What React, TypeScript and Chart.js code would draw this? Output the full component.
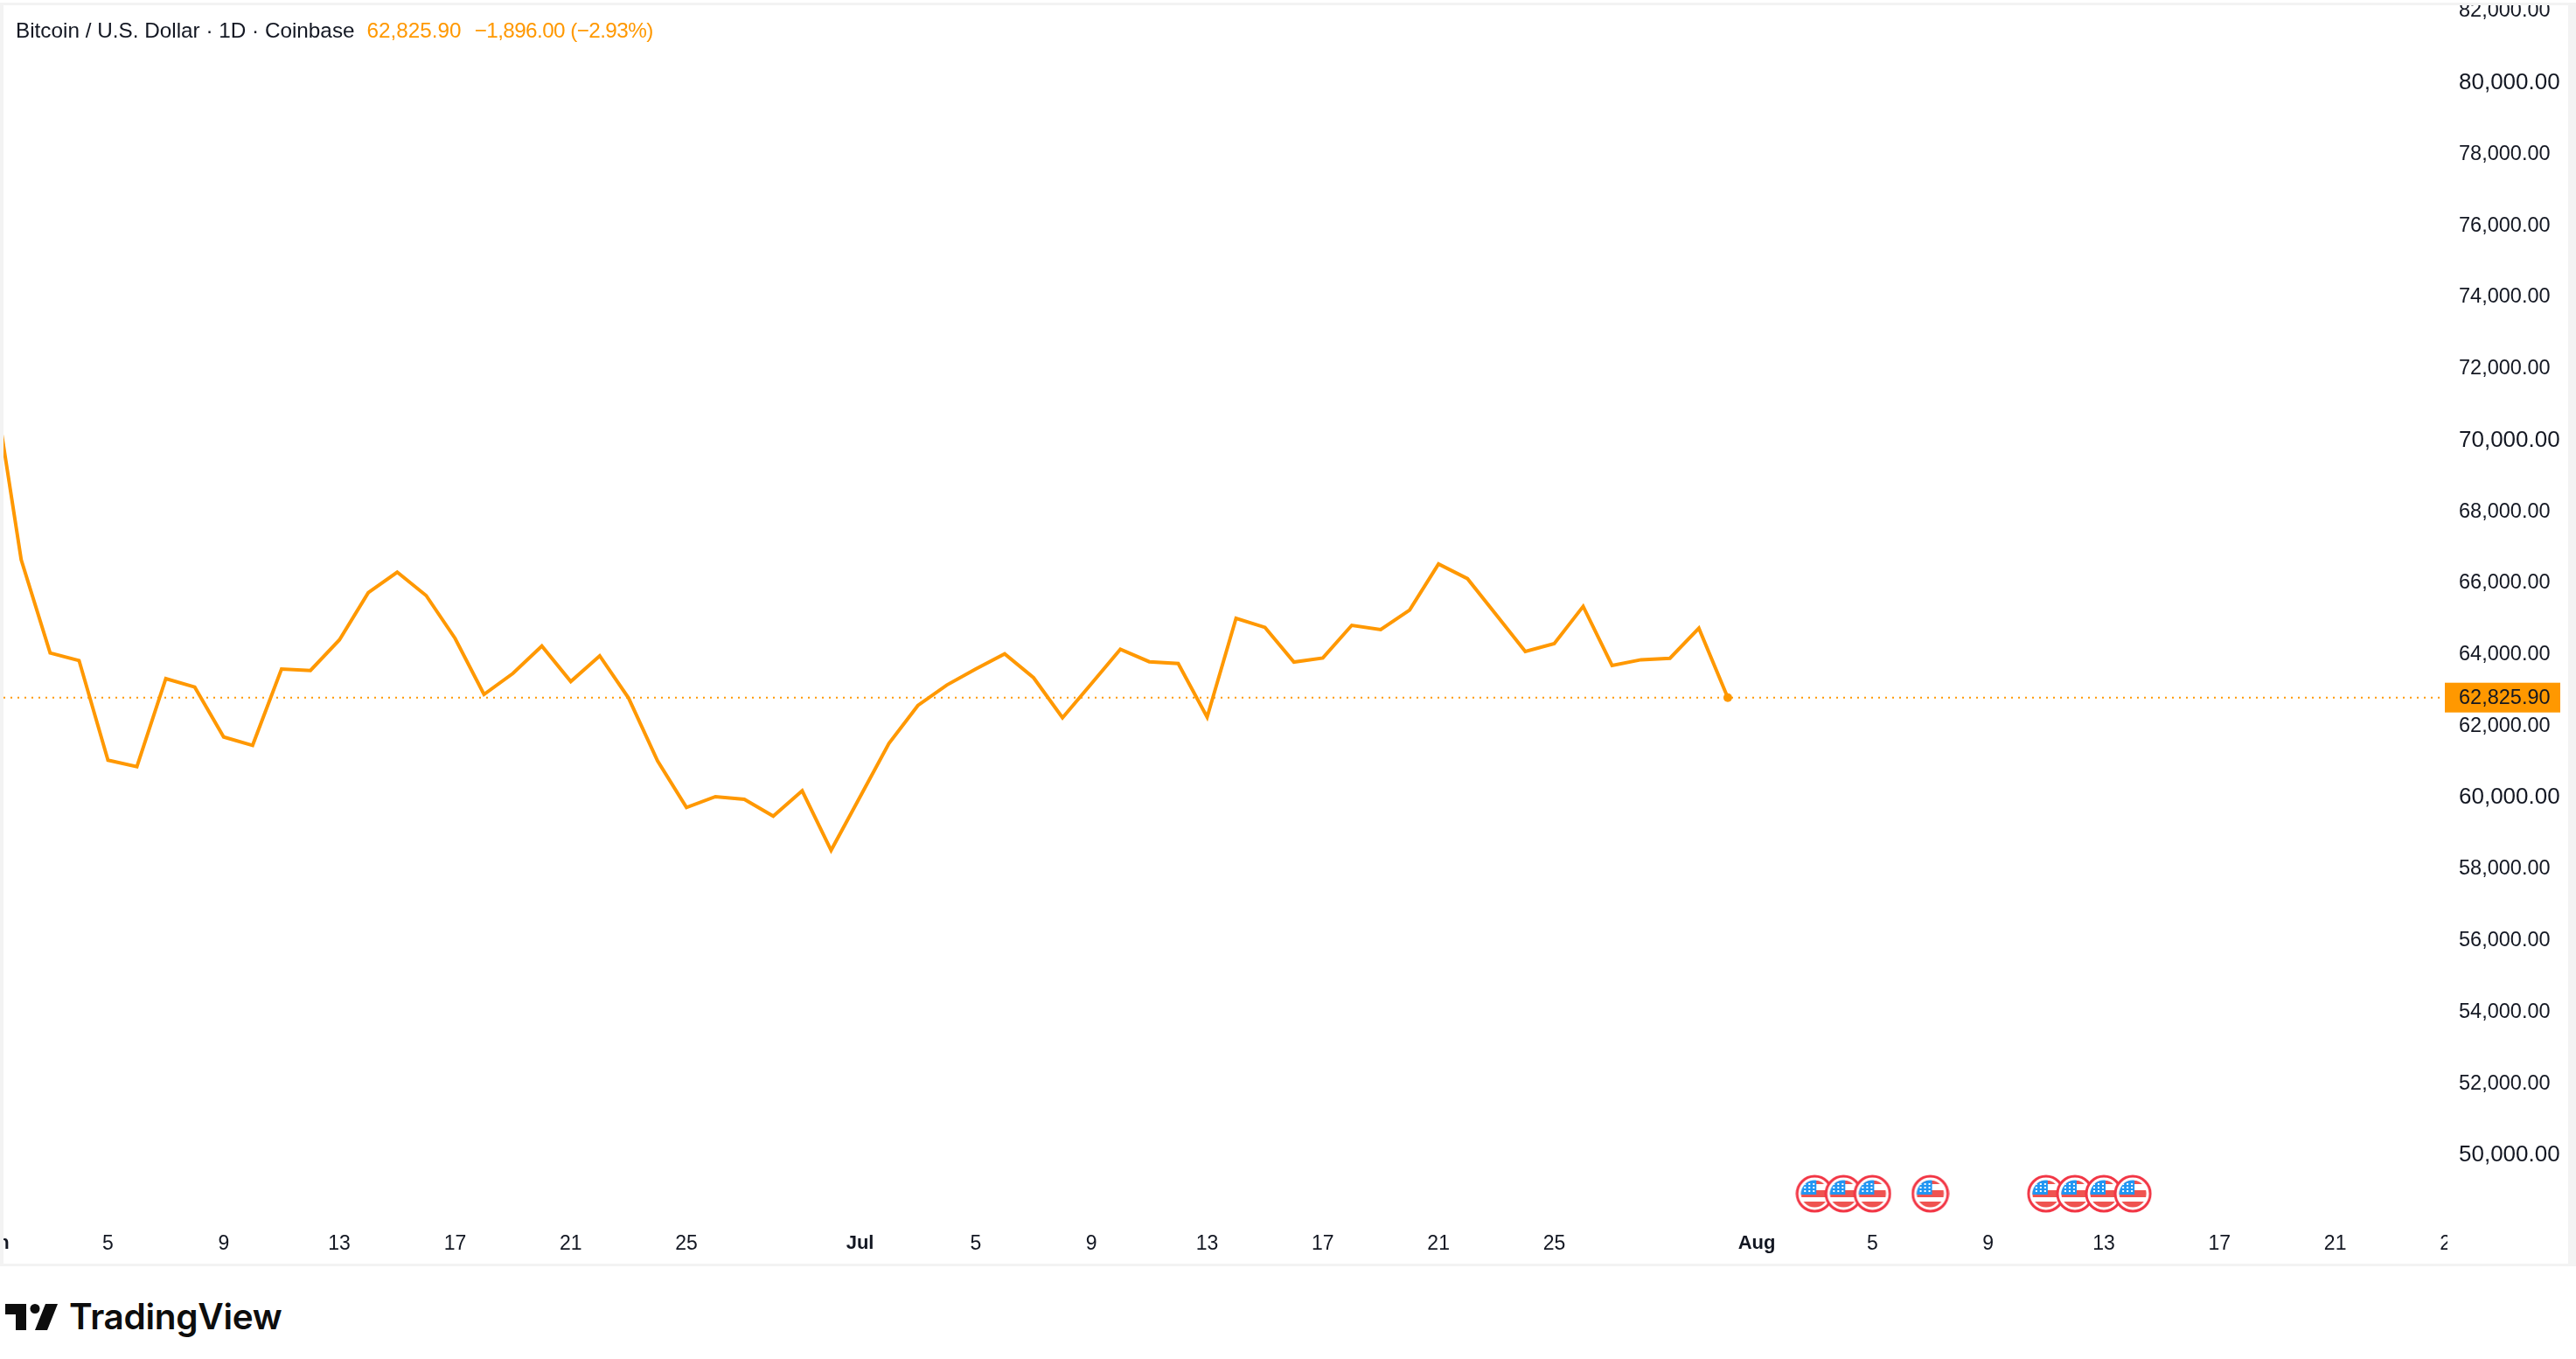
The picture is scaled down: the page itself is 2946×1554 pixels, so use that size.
import { useEffect, useRef } from "react"
import { Chart, registerables } from "chart.js"

Chart.register(...registerables)

const ORANGE = "#ff9800"
const TEXT = "#131722"

// days counted from Jun 1
const dayLabels: [number, string][] = [
  [0, "Jun"], [4, "5"], [8, "9"], [12, "13"], [16, "17"], [20, "21"], [24, "25"],
  [30, "Jul"], [34, "5"], [38, "9"], [42, "13"], [46, "17"], [50, "21"], [54, "25"],
  [61, "Aug"], [65, "5"], [69, "9"], [73, "13"], [77, "17"], [81, "21"], [85, "25"],
]

const priceTicks = [
  50000, 52000, 54000, 56000, 58000, 60000, 62000, 64000, 66000,
  68000, 70000, 72000, 74000, 76000, 78000, 80000, 82000,
]

const closes = [
  71900, 66683, 64073, 63863, 61075, 60894, 63357, 63119, 61725, 61490,
  63626, 63584, 64440, 65761, 66333, 65680, 64482, 62916, 63503, 64269,
  63276, 63993, 62811, 61058, 59754, 60055, 59981, 59509, 60218, 58555,
  60050, 61546, 62606, 63176, 63626, 64049, 63381, 62263, 63217, 64179,
  63829, 63780, 62280, 65044, 64790, 63821, 63934, 64848, 64726, 65272,
  66561, 66153, 65133, 64115, 64335, 65377, 63724, 63885, 63927, 64766,
  62825.9,
]

const eventDays = [63, 64, 65, 67, 71, 72, 73, 74]
const eventLevel = 48950

const X_MIN = 0.388
const X_MAX = 84.79
const Y_MIN = 48265
const Y_MAX = 82190

const money = (v: number) =>
  v.toLocaleString("en-US", { minimumFractionDigits: 2, maximumFractionDigits: 2 })

function makeFlag() {
  const c = document.createElement("canvas")
  c.width = 44
  c.height = 44
  const g = c.getContext("2d")!
  g.translate(22, 22)
  g.beginPath()
  g.arc(0, 0, 20, 0, Math.PI * 2)
  g.fillStyle = "#ffffff"
  g.fill()
  g.lineWidth = 3
  g.strokeStyle = "#f23645"
  g.stroke()
  g.save()
  g.beginPath()
  g.arc(0, 0, 15.5, 0, Math.PI * 2)
  g.clip()
  g.fillStyle = "#ef5350"
  g.fillRect(-16, -15, 32, 4)
  g.fillRect(-16, -4, 32, 8)
  g.fillRect(-16, 9, 32, 8)
  g.fillStyle = "#2196f3"
  g.fillRect(-16, -16, 18, 17)
  g.fillStyle = "#ffffff"
  for (let i = 0; i < 3; i++) {
    for (let j = 0; j < 3; j++) g.fillRect(-12 + i * 5, -12 + j * 4, 2, 2)
  }
  g.restore()
  return c
}

const lastPriceTag = {
  id: "lastPriceTag",
  afterDraw(chart: Chart) {
    const { ctx, chartArea, scales, height, width } = chart
    const y = scales.y.getPixelForValue(closes[closes.length - 1])
    ctx.save()
    // time axis is cut off where the price axis starts
    ctx.fillStyle = "#ffffff"
    ctx.fillRect(chartArea.right + 3, chartArea.bottom, width - chartArea.right, height - chartArea.bottom)
    ctx.fillStyle = ORANGE
    ctx.fillRect(chartArea.right, y - 17, 132, 34)
    ctx.fillStyle = TEXT
    ctx.font = '23.5px "Liberation Sans"'
    ctx.textBaseline = "middle"
    ctx.fillText(money(closes[closes.length - 1]), chartArea.right + 16, y + 1)
    ctx.restore()
  },
}

function PriceChart() {
  const ref = useRef<HTMLCanvasElement>(null)

  useEffect(() => {
    if (!ref.current) return
    const flag = makeFlag()
    const last = closes[closes.length - 1]
    const chart = new Chart(ref.current, {
      type: "line",
      data: {
        datasets: [
          {
            data: [{ x: X_MIN, y: last }, { x: X_MAX, y: last }],
            borderColor: ORANGE,
            borderWidth: 2,
            borderDash: [2, 6],
            pointRadius: 0,
          },
          {
            data: closes.map((v, i) => ({ x: i, y: v })),
            borderColor: ORANGE,
            borderWidth: 4,
            borderJoinStyle: "miter",
            tension: 0,
            pointRadius: closes.map((_, i) => (i === closes.length - 1 ? 5 : 0)),
            pointBackgroundColor: ORANGE,
            pointBorderWidth: 0,
          },
          {
            data: eventDays.map((d) => ({ x: d, y: eventLevel })),
            showLine: false,
            pointStyle: flag,
            pointRadius: 22,
          },
        ],
      },
      options: {
        responsive: false,
        animation: false,
        events: [],
        layout: { padding: 0, autoPadding: false },
        plugins: { legend: { display: false }, tooltip: { enabled: false }, title: { display: false } },
        scales: {
          x: {
            type: "linear",
            min: X_MIN,
            max: X_MAX,
            grid: { display: false, drawTicks: false },
            border: { display: false },
            afterBuildTicks: (axis) => {
              axis.ticks = dayLabels.map(([value]) => ({ value }))
            },
            afterFit: (axis) => {
              axis.height = 52
              axis.paddingLeft = 0
              axis.paddingRight = 0
            },
            ticks: {
              autoSkip: false,
              maxRotation: 0,
              padding: 16,
              color: TEXT,
              callback: (value) => dayLabels.find(([d]) => d === value)?.[1] ?? "",
              font: (ctx) => {
                const major = ctx.tick && isNaN(Number(dayLabels.find(([d]) => d === ctx.tick.value)?.[1]))
                return { family: '"Liberation Sans"', size: major ? 22 : 23, weight: major ? "bold" : "normal" }
              },
            },
          },
          y: {
            position: "right",
            min: Y_MIN,
            max: Y_MAX,
            grid: { display: false, drawTicks: false },
            border: { display: false },
            afterBuildTicks: (axis) => {
              axis.ticks = priceTicks.map((value) => ({ value }))
            },
            afterFit: (axis) => {
              axis.width = 141
              axis.paddingTop = 0
              axis.paddingBottom = 0
            },
            ticks: {
              autoSkip: false,
              padding: 16,
              labelOffset: -1,
              color: TEXT,
              callback: (value) => money(Number(value)),
              font: (ctx) => {
                const major = ctx.tick && ctx.tick.value % 10000 === 0
                return { family: '"Liberation Sans"', size: major ? 26 : 23.5, weight: "normal" }
              },
            },
          },
        },
      },
      plugins: [lastPriceTag],
    })
    return () => chart.destroy()
  }, [])

  return (
    <canvas
      ref={ref}
      width={2933}
      height={1439}
      style={{ position: "absolute", left: 4, top: 6, width: 2933, height: 1439 }}
    />
  )
}

export default function App() {
  return (
    <div style={{ position: "absolute", left: 0, top: 0, width: 2946, height: 1554, background: "#fff", overflow: "hidden" }}>
      <div
        style={{
          position: "absolute",
          left: 0,
          top: 3,
          width: 2946,
          height: 1445,
          boxSizing: "border-box",
          borderStyle: "solid",
          borderColor: "#f3f3f3",
          borderWidth: "3px 9px 3px 4px",
        }}
      />
      <PriceChart />
      <div
        style={{
          position: "absolute",
          left: 18,
          top: 21,
          height: 28,
          font: '24.3px/28px "Liberation Sans"',
          color: TEXT,
          whiteSpace: "pre",
        }}
      >
        Bitcoin / U.S. Dollar · 1D · Coinbase
        <span style={{ color: ORANGE, marginLeft: 14 }}>62,825.90</span>
        <span style={{ color: ORANGE, marginLeft: 15, letterSpacing: "-0.6px" }}>−1,896.00 (−2.93%)</span>
      </div>
      <svg style={{ position: "absolute", left: 0, top: 1480 }} width={76} height={50} viewBox="0 0 76 50">
        <path d="M6 11H30V41H18V23H6Z" fill="#0d0d0d" />
        <circle cx={40} cy={16.5} r={5.5} fill="#0d0d0d" />
        <path d="M52 11H66L54 41H40Z" fill="#0d0d0d" />
      </svg>
      <div
        style={{
          position: "absolute",
          left: 79,
          top: 1480,
          font: '600 40.5px/52px Inter',
          letterSpacing: "-0.3px",
          color: "#0d0d0d",
          whiteSpace: "pre",
        }}
      >
        TradingView
      </div>
    </div>
  )
}
